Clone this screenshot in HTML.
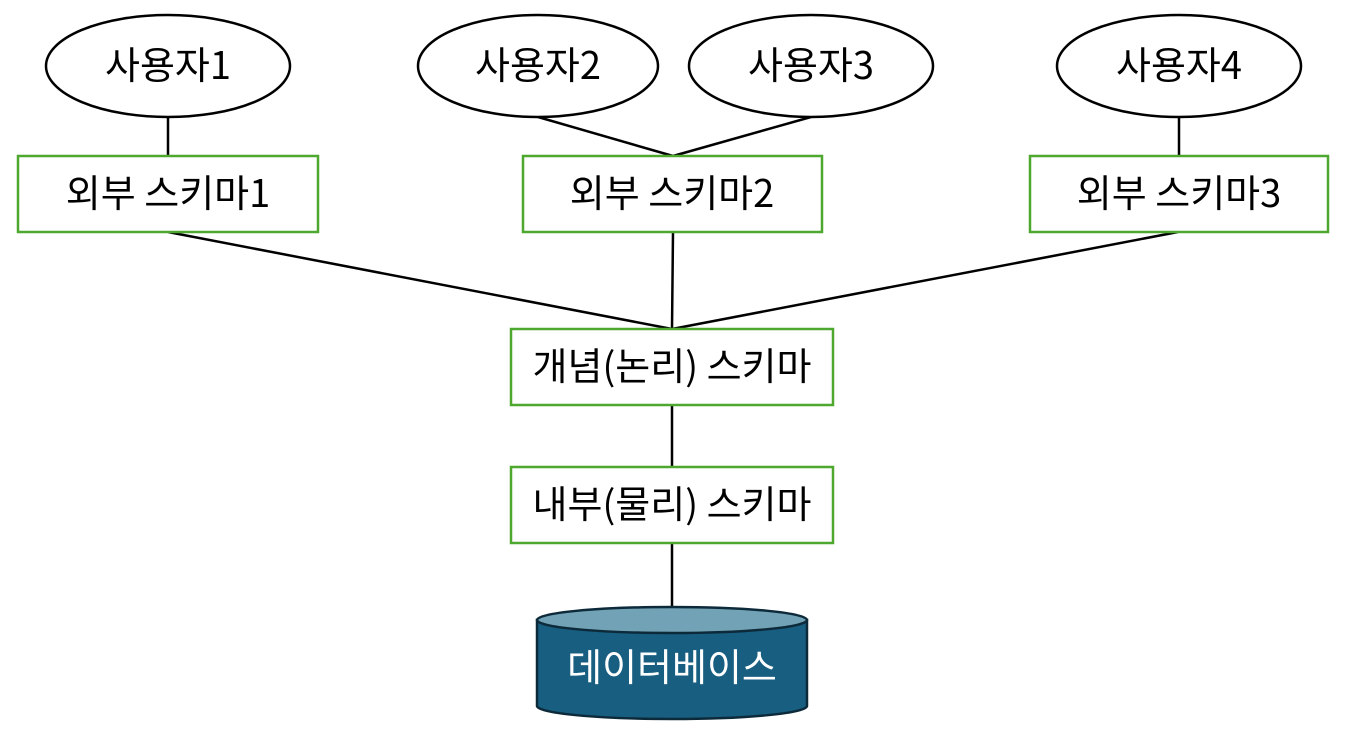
<!DOCTYPE html>
<html><head><meta charset="utf-8"><style>
html,body{margin:0;padding:0;background:#fff;}
</style></head><body>
<svg width="1346" height="732" viewBox="0 0 1346 732" xmlns="http://www.w3.org/2000/svg">
<g stroke="#000" stroke-width="2.5" fill="none">
<line x1="168" y1="117" x2="168" y2="156"/>
<line x1="538" y1="117" x2="673" y2="156"/>
<line x1="811" y1="117" x2="673" y2="156"/>
<line x1="1179" y1="117" x2="1179" y2="156"/>
<line x1="168" y1="232" x2="672" y2="329"/>
<line x1="673" y1="232" x2="672" y2="329"/>
<line x1="1178" y1="232" x2="672" y2="329"/>
<line x1="672" y1="405" x2="672" y2="467"/>
<line x1="672" y1="543" x2="672" y2="606"/>
<ellipse cx="168" cy="66" rx="122" ry="51" fill="#fff"/>
<ellipse cx="538" cy="66" rx="120" ry="51" fill="#fff"/>
<ellipse cx="811" cy="66" rx="122" ry="51" fill="#fff"/>
<ellipse cx="1179" cy="66" rx="122" ry="51" fill="#fff"/>
</g>
<g stroke="#4ea72e" stroke-width="2.5" fill="#fff">
<rect x="18" y="156" width="300" height="76"/>
<rect x="523" y="156" width="299" height="76"/>
<rect x="1030" y="156" width="298" height="76"/>
<rect x="511" y="329" width="322" height="76"/>
<rect x="511" y="467" width="322" height="76"/>
</g>
<g stroke="#0d2a3a" stroke-width="2.5">
<path d="M537 620 L537 706 A135 13 0 0 0 807 706 L807 620 Z" fill="#175e80"/>
<ellipse cx="672" cy="620" rx="135" ry="13" fill="#72a2b5"/>
</g>
<g text-anchor="middle" font-family="'Noto Sans CJK KR', 'Liberation Sans', sans-serif" font-size="38" fill="#000">
<text x="168" y="79">사용자1</text>
<text x="538" y="79">사용자2</text>
<text x="811" y="79">사용자3</text>
<text x="1179" y="79">사용자4</text>
<text x="168" y="207">외부 스키마1</text>
<text x="672" y="207">외부 스키마2</text>
<text x="1179" y="207">외부 스키마3</text>
<text x="672" y="380">개념(논리) 스키마</text>
<text x="672" y="518">내부(물리) 스키마</text>
<text x="672" y="681" fill="#fff">데이터베이스</text>
</g>
</svg>
</body></html>
